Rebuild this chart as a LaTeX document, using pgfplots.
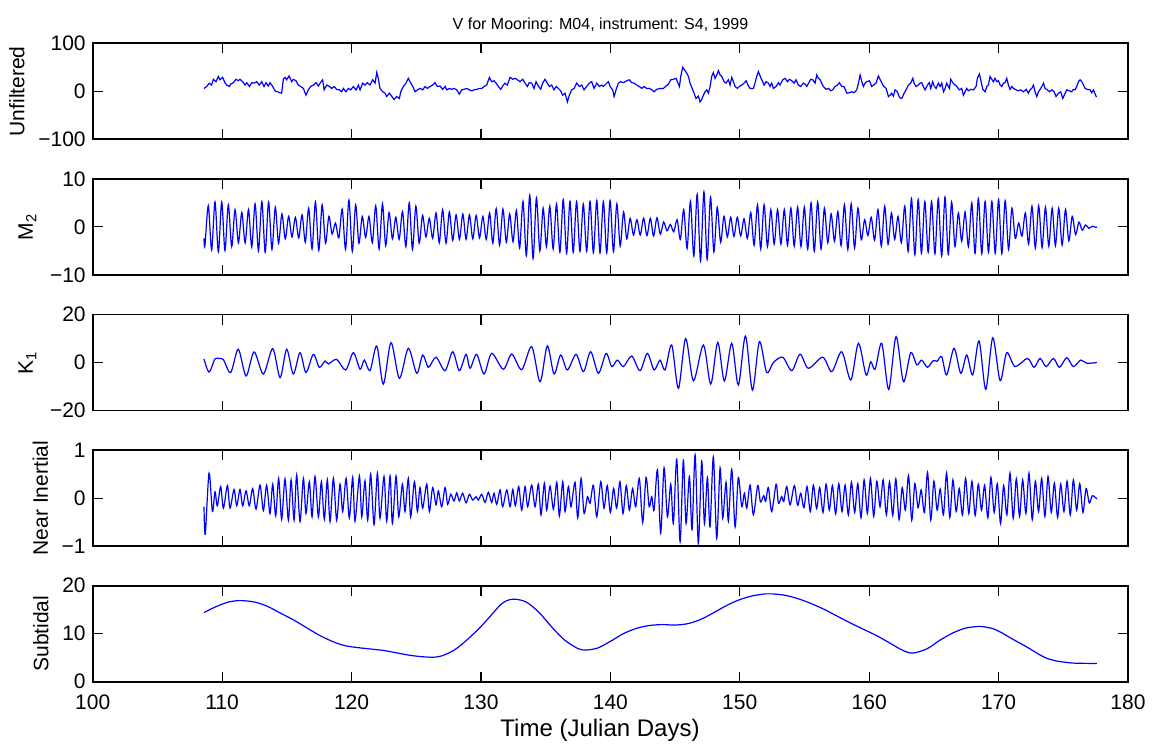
\documentclass[border=0pt]{standalone}
\usepackage{pgfplots}
\pgfplotsset{compat=1.18}
\usepackage{fontspec}
\setmainfont{Liberation Sans}

\pgfplotsset{
  panel/.style={
    scale only axis, width=517.65pt, height=48pt,
    anchor=south west,
    xmin=100, xmax=180,
    xtick={100,110,120,130,140,150,160,170,180}, xticklabels={},
    tick align=inside, major tick length=5pt,
    axis line style={line width=0.8pt},
    tick style={black, line width=0.6pt},
    tick label style={font=\fontsize{10.5}{12}\selectfont},
    xticklabel style={yshift=-3pt},
    label style={font=\fontsize{10.5}{12}\selectfont},
  },
  sig/.style={blue, line width=0.6pt, no markers},
}

\begin{document}
\begin{tikzpicture}
\path[use as bounding box] (0,0) rectangle (577pt,372.5pt);

% Unfiltered
\begin{axis}[panel, at={(46.35pt,302.85pt)},
  ymin=-100, ymax=100, ytick={-100,0,100}, yticklabels={−100,0,100},
  ylabel={Unfiltered}]
\addplot[sig] coordinates {
(108.60,6) (108.81,10) (109.01,17) (109.19,13) (109.32,25) (109.53,20) (109.71,31) (109.84,24)
(110.04,29) (110.22,18) (110.35,13) (110.56,10) (110.66,15) (110.87,18) (111.07,25) (111.25,22)
(111.38,25) (111.59,20) (111.77,13) (111.90,18) (112.11,10) (112.29,18) (112.47,17) (112.67,20)
(112.88,13) (113.06,20) (113.24,10) (113.39,18) (113.57,11) (113.70,18) (113.91,10) (114.09,1)
(114.27,-1) (114.48,-3) (114.60,-4) (114.73,25) (114.86,29) (114.99,24) (115.17,32) (115.38,20)
(115.50,25) (115.71,22) (115.89,13) (116.07,10) (116.28,6) (116.48,-8) (116.66,3) (116.84,10)
(117.05,13) (117.26,18) (117.44,11) (117.57,17) (117.77,24) (117.88,3) (118.08,13) (118.29,10)
(118.47,6) (118.65,10) (118.85,4) (119.06,3) (119.24,-1) (119.37,6) (119.57,-1) (119.76,6)
(119.94,3) (120.14,10) (120.35,3) (120.53,13) (120.66,3) (120.86,17) (121.04,13) (121.22,18)
(121.43,13) (121.64,24) (121.82,17) (121.95,39) (122.07,27) (122.20,6) (122.41,-1) (122.59,-4)
(122.72,-11) (122.92,-4) (123.10,-10) (123.28,-17) (123.49,-11) (123.70,-15) (123.80,-1) (124.01,10)
(124.21,17) (124.39,27) (124.52,20) (124.73,10) (124.91,-1) (125.09,3) (125.30,6) (125.50,3)
(125.68,10) (125.86,6) (126.07,10) (126.27,13) (126.45,18) (126.63,10) (126.84,11) (127.05,4)
(127.23,10) (127.36,3) (127.56,6) (127.74,4) (127.92,6) (128.13,3) (128.33,-6) (128.51,3)
(128.69,4) (128.90,6) (129.11,3) (129.29,1) (129.47,3) (129.67,4) (129.88,6) (130.06,6)
(130.24,10) (130.45,13) (130.65,29) (130.83,20) (131.01,22) (131.17,17) (131.35,10) (131.53,4)
(131.68,11) (131.86,17) (132.04,13) (132.25,29) (132.46,25) (132.64,27) (132.82,24) (133.02,20)
(133.23,25) (133.41,17) (133.59,10) (133.74,18) (133.92,17) (134.10,6) (134.26,20) (134.44,11)
(134.62,4) (134.77,17) (134.95,25) (135.13,17) (135.29,10) (135.47,13) (135.65,3) (135.81,10)
(135.98,6) (136.16,1) (136.32,-8) (136.50,-4) (136.68,-22) (136.83,-8) (137.01,3) (137.20,6)
(137.40,17) (137.61,10) (137.79,13) (137.97,3) (138.17,10) (138.38,17) (138.56,20) (138.74,6)
(138.95,17) (139.15,10) (139.33,13) (139.46,10) (139.72,17) (139.85,20) (139.98,10) (140.18,3)
(140.29,-11) (140.44,3) (140.62,17) (140.80,20) (141.01,18) (141.27,22) (141.47,24) (141.65,18)
(141.83,17) (142.04,13) (142.24,10) (142.42,6) (142.60,10) (142.81,6) (143.02,6) (143.20,3)
(143.38,-1) (143.58,4) (143.84,6) (144.10,6) (144.30,11) (144.49,15) (144.67,24) (144.87,25)
(145.08,27) (145.18,20) (145.34,10) (145.44,31) (145.59,50) (145.77,43) (145.90,38) (146.03,31)
(146.16,17) (146.37,3) (146.47,-4) (146.62,-15) (146.80,-10) (146.93,-22) (147.06,-17) (147.19,-8)
(147.32,-1) (147.45,3) (147.58,-4) (147.71,10) (147.83,31) (147.96,39) (148.09,27) (148.22,34)
(148.35,43) (148.48,34) (148.61,31) (148.79,20) (148.94,17) (149.12,24) (149.25,13) (149.38,29)
(149.51,20) (149.64,10) (149.82,6) (149.97,10) (150.15,13) (150.33,17) (150.49,22) (150.67,11)
(150.80,6) (151.05,6) (151.18,17) (151.31,31) (151.44,41) (151.57,32) (151.70,24) (151.88,13)
(152.03,20) (152.21,17) (152.34,10) (152.47,17) (152.60,6) (152.81,10) (152.99,18) (153.11,13)
(153.32,24) (153.50,27) (153.68,20) (153.84,25) (154.02,22) (154.20,17) (154.35,24) (154.53,13)
(154.71,10) (154.92,17) (155.05,15) (155.18,10) (155.38,20) (155.48,25) (155.64,24) (155.82,17)
(155.95,34) (156.08,27) (156.21,24) (156.33,17) (156.46,10) (156.67,4) (156.85,6) (157.03,1)
(157.18,3) (157.36,10) (157.55,13) (157.70,18) (157.88,10) (158.06,10) (158.27,-4) (158.47,-3)
(158.65,-1) (158.83,-3) (159.04,3) (159.17,17) (159.30,34) (159.43,20) (159.55,10) (159.68,17)
(159.81,20) (160.02,22) (160.20,10) (160.33,13) (160.53,17) (160.71,32) (160.84,25) (160.97,18)
(161.10,11) (161.31,6) (161.49,-11) (161.62,-8) (161.74,-4) (161.87,-10) (162.00,3) (162.18,-1)
(162.34,-13) (162.52,-15) (162.70,-4) (162.85,3) (163.03,13) (163.21,17) (163.37,27) (163.47,17)
(163.62,10) (163.80,13) (163.93,17) (164.06,18) (164.19,10) (164.32,3) (164.50,13) (164.65,18)
(164.76,6) (164.91,20) (165.02,11) (165.17,6) (165.35,17) (165.48,10) (165.61,17) (165.74,-1)
(165.87,6) (165.99,17) (166.20,6) (166.30,25) (166.46,18) (166.64,13) (166.77,10) (166.97,3)
(167.15,6) (167.28,-8) (167.41,-1) (167.54,6) (167.67,1) (167.85,4) (168.06,3) (168.26,10)
(168.36,27) (168.52,36) (168.62,24) (168.78,4) (168.96,-1) (169.09,10) (169.21,13) (169.34,31)
(169.47,25) (169.60,20) (169.73,27) (169.86,20) (169.99,22) (170.12,13) (170.25,10) (170.37,17)
(170.50,18) (170.63,27) (170.76,13) (170.89,4) (171.02,10) (171.15,6) (171.35,3) (171.53,1)
(171.71,3) (171.92,-1) (172.13,4) (172.31,-4) (172.43,3) (172.56,6) (172.69,13) (172.82,-1)
(172.95,-11) (173.08,-1) (173.21,4) (173.34,10) (173.47,17) (173.59,6) (173.77,3) (173.93,-1)
(174.11,3) (174.29,-1) (174.44,-11) (174.62,-4) (174.80,-1) (174.96,-15) (175.14,-4) (175.27,3)
(175.47,1) (175.65,-1) (175.78,4) (175.91,3) (176.04,10) (176.17,20) (176.30,24) (176.43,20)
(176.56,13) (176.68,6) (176.86,4) (177.07,3) (177.20,-3) (177.33,3) (177.54,-11) (177.60,-11)
};
\end{axis}

% M2
\begin{axis}[panel, at={(46.35pt,235.05pt)},
  ymin=-10, ymax=10, ytick={-10,0,10}, yticklabels={−10,0,10},
  ylabel={M\textsubscript{2}}]
\addplot[sig, smooth] coordinates {
(108.60,-2.4) (108.67,-4.0)
(108.93,4.4) (109.19,-4.8) (109.45,5.2) (109.71,-5.2) (109.97,5.2) (110.22,-4.9) (110.48,4.6) (110.74,-4.1)
(111.00,3.6) (111.26,-3.3) (111.52,3.0) (111.78,-3.3) (112.04,3.6) (112.29,-4.2) (112.55,4.8) (112.81,-5.0)
(113.07,5.3) (113.33,-5.3) (113.59,5.2) (113.85,-4.7) (114.11,4.1) (114.36,-3.4) (114.62,2.7) (114.88,-2.5)
(115.14,2.2) (115.40,-2.1) (115.66,2.0) (115.92,-2.3) (116.18,2.5) (116.43,-3.2) (116.69,3.9) (116.95,-4.6)
(117.21,5.2) (117.47,-4.9) (117.73,4.6) (117.99,-3.4) (118.25,2.2) (118.50,-1.5) (118.76,0.8) (119.02,-2.3)
(119.28,3.7) (119.54,-4.7) (119.80,5.6) (120.06,-5.1) (120.32,4.6) (120.57,-3.4) (120.83,2.2) (121.09,-2.2)
(121.35,2.2) (121.61,-3.3) (121.87,4.4) (122.13,-4.6) (122.39,4.8) (122.64,-3.9) (122.90,3.0) (123.16,-2.5)
(123.42,2.0) (123.68,-2.6) (123.94,3.2) (124.20,-4.1) (124.46,5.0) (124.71,-4.7) (124.97,4.3) (125.23,-3.4)
(125.49,2.4) (125.75,-2.1) (126.01,1.8) (126.27,-2.4) (126.53,2.9) (126.78,-3.3) (127.04,3.6) (127.30,-3.4)
(127.56,3.1) (127.82,-2.8) (128.08,2.5) (128.34,-2.6) (128.60,2.7) (128.85,-2.6) (129.11,2.5) (129.37,-2.5)
(129.63,2.4) (129.89,-2.3) (130.15,2.2) (130.41,-2.6) (130.67,2.9) (130.92,-3.4) (131.18,3.8) (131.44,-3.8)
(131.70,3.7) (131.96,-3.2) (132.22,2.7) (132.48,-3.1) (132.74,3.4) (132.99,-4.4) (133.25,5.3) (133.51,-6.0)
(133.77,6.6) (134.03,-6.6) (134.29,6.1) (134.55,-5.0) (134.81,3.9) (135.06,-4.1) (135.32,4.3) (135.58,-4.6)
(135.84,4.8) (136.10,-5.3) (136.36,5.7) (136.62,-5.5) (136.88,5.3) (137.13,-5.3) (137.39,5.3) (137.65,-5.1)
(137.91,4.8) (138.17,-5.1) (138.43,5.3) (138.69,-5.4) (138.95,5.5) (139.20,-5.4) (139.46,5.3) (139.72,-5.4)
(139.98,5.5) (140.24,-5.2) (140.50,4.8) (140.76,-4.0) (141.02,3.1) (141.27,-2.5) (141.53,1.8) (141.79,-1.7)
(142.05,1.5) (142.31,-1.7) (142.57,1.8) (142.83,-1.8) (143.09,1.8) (143.34,-1.9) (143.60,1.9) (143.86,-1.5)
(144.12,1.0) (144.38,-0.8) (144.64,0.5) (144.90,-1.0) (145.16,1.5) (145.41,-2.6) (145.67,3.6) (145.93,-4.5)
(146.19,5.3) (146.45,-6.1) (146.71,6.8) (146.97,-7.1) (147.23,7.3) (147.48,-6.8) (147.74,6.2) (148.00,-5.2)
(148.26,4.1) (148.52,-3.2) (148.78,2.2) (149.04,-2.1) (149.30,2.0) (149.55,-2.0) (149.81,2.0) (150.07,-1.9)
(150.33,1.7) (150.59,-2.4) (150.85,3.0) (151.11,-3.8) (151.37,4.6) (151.62,-4.6) (151.88,4.6) (152.14,-4.1)
(152.40,3.6) (152.66,-3.6) (152.92,3.6) (153.18,-3.6) (153.44,3.6) (153.69,-3.8) (153.95,3.9) (154.21,-4.0)
(154.47,4.1) (154.73,-4.1) (154.99,4.1) (155.25,-4.6) (155.51,5.0) (155.76,-5.1) (156.02,5.2) (156.28,-4.6)
(156.54,3.9) (156.80,-3.3) (157.06,2.7) (157.32,-3.0) (157.58,3.2) (157.83,-3.9) (158.09,4.6) (158.35,-4.7)
(158.61,4.8) (158.87,-4.4) (159.13,3.9) (159.39,-2.7) (159.65,1.5) (159.90,-1.8) (160.16,2.0) (160.42,-2.8)
(160.68,3.6) (160.94,-4.0) (161.20,4.3) (161.46,-3.6) (161.72,2.9) (161.97,-2.6) (162.23,2.2) (162.49,-3.3)
(162.75,4.3) (163.01,-5.1) (163.27,5.9) (163.53,-5.8) (163.79,5.7) (164.04,-5.5) (164.30,5.3) (164.56,-5.3)
(164.82,5.3) (165.08,-5.6) (165.34,5.9) (165.60,-6.1) (165.86,6.2) (166.11,-5.7) (166.37,5.2) (166.63,-4.1)
(166.89,2.9) (167.15,-3.0) (167.41,3.1) (167.67,-4.1) (167.93,5.0) (168.18,-5.5) (168.44,5.9) (168.70,-5.6)
(168.96,5.3) (169.22,-5.3) (169.48,5.3) (169.74,-5.5) (170.00,5.7) (170.25,-5.6) (170.51,5.5) (170.77,-4.7)
(171.03,3.9) (171.29,-2.4) (171.55,0.8) (171.81,-1.9) (172.07,2.9) (172.32,-3.6) (172.58,4.3) (172.84,-4.4)
(173.10,4.4) (173.36,-4.3) (173.62,4.1) (173.88,-4.0) (174.14,3.9) (174.39,-3.9) (174.65,3.9) (174.91,-3.8)
(175.17,3.6) (175.43,-2.9) (175.69,2.2) (175.95,-1.6) (176.21,1.0) (176.46,-0.7) (176.72,0.4) (176.98,-0.3)
(177.24,0.15) (177.50,-0.1) (177.60,0.0)
};
\end{axis}

% K1
\begin{axis}[panel, at={(46.35pt,167.25pt)},
  ymin=-20, ymax=20, ytick={-20,0,20}, yticklabels={−20,0,20},
  ylabel={K\textsubscript{1}}]
\addplot[sig, smooth] coordinates {
(108.60,1.5) (108.99,-4.0) (109.45,1.5) (109.80,1.6) (110.10,1.2) (110.66,-4.2) (111.25,5.5) (111.85,-5.6)
(112.47,4.4) (113.19,-4.8) (113.91,5.8) (114.48,-6.3) (114.99,5.5) (115.50,-4.8) (116.02,4.1) (116.48,-4.2)
(117.05,3.4) (117.51,-2.0) (117.95,0.6) (118.21,-0.6) (118.85,1.3) (119.55,-3.1) (120.14,4.1) (120.66,-2.8)
(120.99,1.0) (121.43,-3.4) (121.95,6.9) (122.46,-9.0) (123.05,8.3) (123.70,-6.6) (124.39,5.9) (125.04,-4.5)
(125.50,3.1) (125.94,-2.0) (126.53,2.2) (127.23,-3.4) (127.82,4.5) (128.33,-3.4) (128.85,3.4) (129.16,-2.4)
(129.67,3.4) (130.24,-4.8) (130.83,3.8) (131.73,-2.8) (132.38,3.5) (133.15,-3.0) (133.92,6.6) (134.57,-8.0)
(135.13,6.9) (135.65,-4.8) (136.16,3.1) (136.68,-3.1) (137.35,3.4) (137.92,-3.8) (138.48,4.5) (139.08,-4.5)
(139.67,3.8) (140.11,-1.7) (140.54,1.0) (141.01,-1.7) (141.65,2.7) (142.29,-3.4) (142.86,3.8) (143.38,-3.1)
(143.84,1.0) (144.23,-3.1) (144.74,7.3) (145.26,-10.8) (145.82,10.0) (146.42,-7.6) (147.19,7.3) (147.76,-9.0)
(148.30,8.4) (148.81,-7.7) (149.38,8.0) (149.89,-9.4) (150.44,11.0) (150.98,-11.5) (151.52,8.7) (152.08,-4.2)
(152.60,0.0) (153.32,2.2) (154.02,-3.4) (154.66,3.5) (155.30,-2.4) (156.41,2.2) (157.11,-3.8) (157.88,4.5)
(158.58,-7.3) (159.17,8.0) (159.76,-5.2) (160.12,0.3) (160.46,-2.8) (160.97,8.0) (161.51,-11.2) (162.08,10.8)
(162.65,-8.0) (163.21,4.1) (163.68,-1.0) (164.06,1.0) (164.50,-2.0) (164.95,0.8) (165.25,0.5) (165.61,2.4)
(165.99,-5.2) (166.56,5.9) (167.08,-4.5) (167.54,3.1) (168.00,-5.2) (168.49,9.0) (169.01,-11.2) (169.55,10.3)
(170.12,-7.6) (170.63,4.1) (171.27,-1.7) (172.23,1.7) (172.74,-2.0) (173.21,1.7) (173.67,-1.7) (174.24,1.7)
(174.70,-2.0) (175.27,2.0) (175.78,-1.7) (176.35,1.0) (176.81,-0.3) (177.60,0.0)
};
\end{axis}

% Near inertial
\begin{axis}[panel, at={(46.35pt,99.45pt)},
  ymin=-1, ymax=1, ytick={-1,0,1}, yticklabels={−1,0,1},
  ylabel={Near Inertial}]
\addplot[sig, smooth] coordinates {
(108.60,-0.18) (108.70,-0.75) (108.99,0.52) (109.25,-0.28) (109.45,0.13) (109.63,-0.16) (109.89,0.24) (110.10,-0.21)
(110.41,0.26) (110.61,-0.21) (110.92,0.18) (111.13,-0.16) (111.38,0.18) (111.59,-0.16) (111.85,0.15) (112.10,-0.16)
(112.36,0.20) (112.62,-0.23) (112.93,0.27) (113.19,-0.26) (113.44,0.27) (113.70,-0.32) (113.91,0.29) (114.14,-0.37)
(114.37,0.41) (114.60,-0.44) (114.86,0.40) (115.12,-0.46) (115.33,0.38) (115.56,-0.46) (115.76,0.48) (116.02,-0.49)
(116.28,0.41) (116.48,-0.32) (116.74,0.34) (116.95,-0.39) (117.18,0.45) (117.44,-0.39) (117.67,0.34) (117.90,-0.44)
(118.13,0.38) (118.34,-0.49) (118.60,0.41) (118.85,-0.46) (119.11,0.29) (119.32,-0.28) (119.58,0.41) (119.83,-0.41)
(120.09,0.43) (120.27,-0.48) (120.61,0.46) (120.79,-0.39) (121.04,0.36) (121.25,-0.46) (121.48,0.50) (121.74,-0.55)
(122.00,0.52) (122.20,-0.42) (122.51,0.45) (122.72,-0.48) (122.98,0.46) (123.16,-0.53) (123.44,0.46) (123.65,-0.39)
(123.93,0.29) (124.13,-0.28) (124.39,0.41) (124.57,-0.39) (124.86,0.34) (125.09,-0.28) (125.29,0.22) (125.50,-0.21)
(125.81,0.29) (126.02,-0.28) (126.27,0.22) (126.53,-0.14) (126.71,0.15) (126.97,-0.18) (127.23,0.22) (127.43,-0.13)
(127.67,0.08) (127.92,-0.06) (128.13,0.11) (128.33,-0.06) (128.59,0.10) (128.85,-0.10) (129.11,0.08) (129.36,-0.04)
(129.62,0.03) (129.80,-0.04) (130.06,0.08) (130.32,-0.09) (130.57,0.12) (130.83,-0.09) (131.01,0.10) (131.22,-0.13)
(131.48,0.17) (131.68,-0.18) (132.00,0.17) (132.25,-0.18) (132.46,0.18) (132.66,-0.16) (132.92,0.24) (133.15,-0.25)
(133.41,0.24) (133.61,-0.18) (133.92,0.27) (134.18,-0.18) (134.44,0.29) (134.64,-0.35) (134.90,0.31) (135.08,-0.25)
(135.34,0.25) (135.60,-0.23) (135.86,0.33) (136.06,-0.37) (136.32,0.34) (136.50,-0.28) (136.76,0.24) (136.96,-0.18)
(137.27,0.33) (137.48,-0.41) (137.74,0.41) (137.97,-0.32) (138.23,0.03) (138.43,-0.11) (138.69,0.27) (138.95,-0.39)
(139.26,0.34) (139.51,-0.21) (139.76,0.26) (140.00,-0.30) (140.25,0.20) (140.49,-0.21) (140.74,0.34) (140.98,-0.32)
(141.23,0.26) (141.47,-0.25) (141.72,0.20) (141.96,-0.18) (142.24,0.41) (142.50,-0.51) (142.76,0.43) (143.00,-0.18)
(143.20,0.03) (143.38,-0.25) (143.64,0.59) (143.89,-0.73) (144.15,0.63) (144.41,-0.39) (144.67,0.29) (144.87,-0.53)
(145.13,0.81) (145.39,-0.91) (145.64,0.79) (145.85,-0.53) (146.11,0.45) (146.31,-0.66) (146.55,0.90) (146.80,-0.94)
(147.06,0.77) (147.27,-0.53) (147.50,0.43) (147.70,-0.60) (147.96,0.86) (148.22,-0.84) (148.48,0.63) (148.68,-0.42)
(148.94,0.33) (149.12,-0.48) (149.38,0.60) (149.64,-0.60) (149.89,0.43) (150.15,-0.18) (150.36,0.10) (150.54,-0.21)
(150.80,0.27) (151.05,-0.35) (151.39,0.26) (151.60,-0.08) (151.85,0.05) (152.00,-0.07) (152.21,0.22) (152.47,-0.28)
(152.81,0.29) (152.99,-0.11) (153.24,0.03) (153.40,-0.07) (153.63,0.24) (153.89,-0.14)
(154.22,0.26) (154.47,-0.15) (154.71,0.10) (154.96,-0.20) (155.20,0.24) (155.45,-0.28) (155.69,0.27) (155.94,-0.22)
(156.18,0.22) (156.43,-0.30) (156.67,0.29) (156.92,-0.25) (157.16,0.26) (157.41,-0.33) (157.65,0.30) (157.90,-0.28)
(158.14,0.27) (158.39,-0.35) (158.63,0.33) (158.88,-0.30) (159.12,0.30) (159.37,-0.41) (159.61,0.38) (159.86,-0.32)
(160.10,0.41) (160.35,-0.38) (160.59,0.35) (160.84,-0.18) (161.08,0.38) (161.33,-0.35) (161.57,0.34) (161.82,-0.36)
(162.06,0.40) (162.31,-0.45) (162.55,0.22) (162.80,-0.25) (163.04,0.47) (163.29,-0.46) (163.53,0.30) (163.78,-0.20)
(164.02,0.17) (164.27,-0.30) (164.51,0.54) (164.76,-0.46) (165.00,0.35) (165.25,-0.25) (165.49,0.19) (165.74,-0.35)
(165.98,0.52) (166.23,-0.40) (166.47,0.38) (166.72,-0.28) (166.96,0.20) (167.21,-0.35) (167.45,0.41) (167.70,-0.32)
(167.94,0.35) (168.19,-0.36) (168.43,0.29) (168.68,-0.25) (168.92,0.27) (169.17,-0.41) (169.41,0.43) (169.66,-0.30)
(169.90,0.30) (170.15,-0.53) (170.39,0.26) (170.64,-0.35) (170.88,0.52) (171.13,-0.42) (171.37,0.40) (171.62,-0.38)
(171.86,0.38) (172.11,-0.32) (172.35,0.52) (172.60,-0.45) (172.84,0.35) (173.09,-0.28) (173.33,0.41) (173.58,-0.38)
(173.82,0.45) (174.07,-0.30) (174.31,0.31) (174.56,-0.40) (174.80,0.29) (175.05,-0.28) (175.29,0.35) (175.54,-0.35)
(175.78,0.38) (176.03,-0.25) (176.27,0.30) (176.52,-0.30) (176.76,0.20) (177.01,-0.10) (177.25,0.05) (177.60,-0.02)
};
\end{axis}

% Subtidal
\begin{axis}[panel, at={(46.35pt,31.65pt)},
  ymin=0, ymax=20, ytick={0,10,20}, yticklabels={0,10,20},
  xticklabels={100,110,120,130,140,150,160,170,180},
  ylabel={Subtidal}]
\addplot[sig, smooth] coordinates {
(108.6,14.4) (109.5,15.6) (110.5,16.6) (111.4,16.9) (112.5,16.6) (113.5,15.7) (114.5,14.3) (115.5,12.9)
(116.5,11.3) (117.5,9.7) (118.6,8.3) (119.5,7.5) (120.5,7.1) (121.5,6.8) (122.5,6.5) (123.5,6.0)
(124.5,5.5) (125.5,5.2) (126.3,5.1) (127.0,5.4) (128.0,6.7) (129.0,8.9) (130.0,11.5) (131.0,14.5)
(131.5,16.0) (132.0,16.9) (132.6,17.2) (133.5,16.6) (134.5,14.4) (135.5,11.3) (136.5,8.6) (137.5,6.9)
(138.1,6.6) (139.0,7.0) (140.0,8.4) (141.0,10.0) (142.0,11.1) (143.0,11.7) (144.0,11.9) (145.0,11.8)
(146.0,12.1) (147.0,13.0) (148.0,14.4) (149.0,15.9) (150.0,17.1) (151.0,17.9) (152.0,18.3) (152.5,18.3)
(153.5,18.0) (154.5,17.3) (155.5,16.3) (156.5,15.1) (157.5,13.7) (158.5,12.3) (159.5,11.0) (160.5,9.7)
(161.5,8.2) (162.4,6.8) (163.0,6.1) (163.5,6.0) (164.5,6.9) (165.5,8.7) (166.5,10.2) (167.5,11.2)
(168.6,11.5) (169.5,11.1) (170.1,10.4) (171.0,9.0) (172.2,7.2) (173.0,5.9) (173.7,4.9) (174.5,4.3)
(175.3,4.0) (176.0,3.85) (177.6,3.8)
};
\end{axis}

\node[anchor=base, font=\fontsize{8}{10}\selectfont] at (300.25pt,357.5pt) {V for Mooring: M04, instrument: S4, 1999};
\node[anchor=base, font=\fontsize{12}{14}\selectfont] at (300pt,4.5pt) {Time (Julian Days)};
\end{tikzpicture}
\end{document}
